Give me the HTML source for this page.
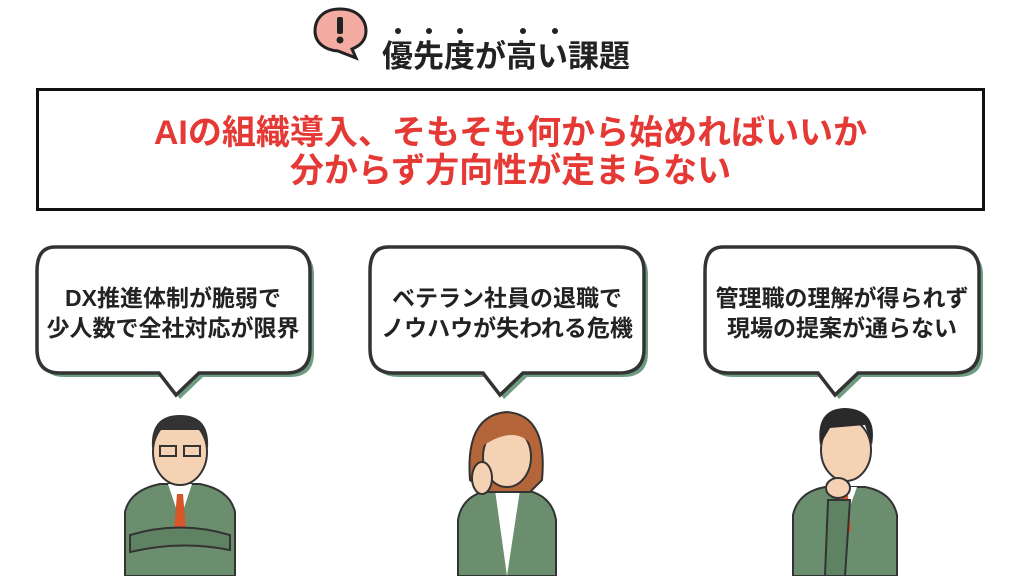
<!DOCTYPE html>
<html><head><meta charset="utf-8"><style>
body{margin:0;width:1024px;height:576px;background:#fff;position:relative;overflow:hidden;font-family:"Liberation Sans","Noto Sans CJK JP",sans-serif;}
.abs{position:absolute}
.title{left:382px;top:37px;font-size:31px;font-weight:bold;color:#222;letter-spacing:0px;line-height:40px}
.box{left:36px;top:88px;width:943px;height:117px;border:3px solid #111;background:#fff}
.red{left:36px;width:949px;text-align:center;color:#e53935;font-weight:bold;font-size:34px;line-height:40px}
.bt{position:absolute;width:290px;text-align:center;font-size:23px;font-weight:bold;color:#222;line-height:30px}
</style></head><body>
<svg class="abs" style="left:0;top:0" width="1024" height="576">
 <path d="M340 9 C322 9 315 20 315 31 C315 42 324 50 338 51 L356 58 L352 49 C362 45 366 39 366 31 C366 20 358 9 340 9Z" fill="#f4aba2" stroke="#222" stroke-width="3"/>
 <rect x="337" y="17" width="6" height="17" rx="2" fill="#222"/><circle cx="340" cy="40" r="3.5" fill="#222"/>
 <g fill="#222"><circle cx="398" cy="31" r="3"/><circle cx="429" cy="31" r="3"/><circle cx="460" cy="31" r="3"/><circle cx="523" cy="31" r="3"/><circle cx="555" cy="31" r="3"/></g>
 <path d="M58 251 H290 Q314 251 314 275 V353 Q314 377 290 377 H203 L180 399 L163 377 H64 Q41 377 41 353 V275 Q41 251 58 251Z" fill="#6d9c80"/>
 <path d="M55 247 H286 Q310 247 310 271 V349 Q310 373 286 373 H199 L176 395 L159 373 H60 Q37 373 37 349 V271 Q37 247 55 247Z" fill="#fff" stroke="#333" stroke-width="3.5"/>
 <path d="M392 251 H623 Q648 251 648 275 V353 Q648 377 623 377 H527 L504 399 L487 377 H398 Q374 377 374 353 V275 Q374 251 392 251Z" fill="#6d9c80"/>
 <path d="M388 247 H619 Q644 247 644 271 V349 Q644 373 619 373 H523 L500 395 L483 373 H394 Q370 373 370 349 V271 Q370 247 388 247Z" fill="#fff" stroke="#333" stroke-width="3.5"/>
 <path d="M727 251 H958 Q983 251 983 275 V353 Q983 377 958 377 H862 L839 399 L822 377 H733 Q709 377 709 353 V275 Q709 251 727 251Z" fill="#6d9c80"/>
 <path d="M723 247 H954 Q979 247 979 271 V349 Q979 373 954 373 H858 L835 395 L818 373 H729 Q705 373 705 349 V271 Q705 247 723 247Z" fill="#fff" stroke="#333" stroke-width="3.5"/>
 <path d="M125 576 V512 Q130 490 160 484 L200 484 Q230 490 235 512 V576Z" fill="#6b8f6e" stroke="#333" stroke-width="2"/>
 <path d="M168 484 L180 520 L192 484Z" fill="#fff"/><path d="M177 494 L183 494 L186 530 L180 538 L174 530Z" fill="#d8572a"/>
 <path d="M130 535 Q180 520 230 535 L230 550 Q180 540 130 552Z" fill="#5e8262" stroke="#333" stroke-width="2"/>
 <ellipse cx="180" cy="452" rx="27" ry="33" fill="#f6d2b5" stroke="#333" stroke-width="2"/>
 <path d="M152 448 Q150 415 180 415 Q210 415 208 448 L200 430 L160 430Z" fill="#333"/>
 <rect x="160" y="446" width="16" height="10" fill="none" stroke="#333" stroke-width="2"/><rect x="184" y="446" width="16" height="10" fill="none" stroke="#333" stroke-width="2"/>
 <path d="M458 576 V520 Q462 495 490 490 L525 490 Q552 495 556 520 V576Z" fill="#6b8f6e" stroke="#333" stroke-width="2"/>
 <path d="M495 490 L507 576 L520 490Z" fill="#fff"/>
 <path d="M470 480 Q465 415 507 412 Q548 415 542 480 L530 492 L485 492Z" fill="#b5653a" stroke="#333" stroke-width="2"/>
 <ellipse cx="507" cy="457" rx="24" ry="30" fill="#f6d2b5" stroke="#333" stroke-width="2"/>
 <path d="M484 445 Q490 415 510 418 Q530 425 532 445 Q515 425 484 445Z" fill="#b5653a"/>
 <ellipse cx="482" cy="478" rx="10" ry="16" fill="#f6d2b5" stroke="#333" stroke-width="2"/>
 <path d="M793 576 V515 Q798 492 825 487 L865 487 Q892 492 897 515 V576Z" fill="#6b8f6e" stroke="#333" stroke-width="2"/>
 <path d="M835 487 L845 520 L857 487Z" fill="#fff"/><path d="M842 495 L848 495 L851 530 L845 538 L839 530Z" fill="#d8572a"/>
 <ellipse cx="846" cy="450" rx="25" ry="31" fill="#f6d2b5" stroke="#333" stroke-width="2"/>
 <path d="M820 445 Q815 408 846 408 Q878 410 872 445 L865 425 L830 428Z" fill="#2a2a2a"/>
 <ellipse cx="838" cy="488" rx="12" ry="10" fill="#f6d2b5" stroke="#333" stroke-width="2"/>
 <path d="M825 576 L828 500 L850 500 L845 576Z" fill="#5e8262" stroke="#333" stroke-width="2"/>
</svg>
<div class="abs title">優先度が高い課題</div>
<div class="abs box"></div>
<div class="abs red" style="top:113px">AIの組織導入、そもそも何から始めればいいか</div>
<div class="abs red" style="top:151px">分からず方向性が定まらない</div>
<div class="bt" style="left:28px;top:283px">DX推進体制が脆弱で<br>少人数で全社対応が限界</div>
<div class="bt" style="left:362px;top:283px">ベテラン社員の退職で<br>ノウハウが失われる危機</div>
<div class="bt" style="left:697px;top:283px">管理職の理解が得られず<br>現場の提案が通らない</div>
</body></html>
